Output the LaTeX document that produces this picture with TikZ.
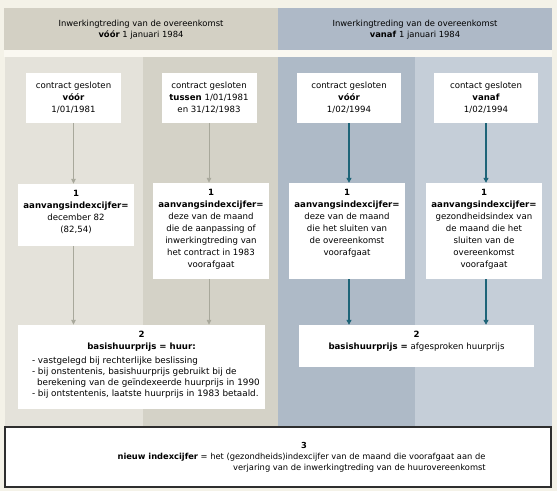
\documentclass[tikz,border=0pt]{standalone}
\usepackage{fontspec}
\setmainfont{DejaVu Sans}
\usetikzlibrary{arrows.meta}
\definecolor{bgc}{HTML}{F4F2E8}
\definecolor{gapc}{HTML}{FAF8F1}
\definecolor{hdl}{HTML}{D3D0C4}
\definecolor{hdr}{HTML}{AEB9C7}
\definecolor{cA}{HTML}{E4E2DA}
\definecolor{cB}{HTML}{D4D2C7}
\definecolor{cC}{HTML}{AEBAC7}
\definecolor{cD}{HTML}{C5CED8}
\definecolor{greyar}{HTML}{A8A89B}
\definecolor{tealar}{HTML}{1E6478}
\definecolor{framec}{HTML}{2E2E2E}
\newcommand\mytopbox[3]{\parbox[c][#2][t]{#1}{\centering\vspace*{6pt}#3}}
\begin{document}
\begin{tikzpicture}[x=1pt,y=-1pt,
  every node/.style={font=\fontsize{8.6}{12}\selectfont},
  hdtext/.style={align=center,font=\fontsize{8.4}{11.5}\selectfont},
  wbox/.style={fill=white, inner sep=0pt, align=center},
  ptext/.style={inner sep=0pt, font=\fontsize{8.3}{11}\selectfont},
  garrow/.style={draw=greyar, line width=0.9pt, -{Triangle[length=5pt,width=4.5pt]}},
  tarrow/.style={draw=tealar, line width=1.2pt, -{Triangle[length=5pt,width=5pt]}},
]
\useasboundingbox (0,0) rectangle (557,491);
\fill[bgc] (0,0) rectangle (557,491);
\fill[gapc] (4,50) rectangle (552,57);
\fill[hdl] (4,8) rectangle (278,50);
\fill[hdr] (278,8) rectangle (552,50);
\fill[cA] (5,57) rectangle (143,427);
\fill[cB] (143,57) rectangle (278,427);
\fill[cC] (278,57) rectangle (415,427);
\fill[cD] (415,57) rectangle (552,427);

% header
\node[hdtext] (hL) at (141,29.5) {Inwerkingtreding van de overeenkomst\\\textbf{vóór} 1 januari 1984};
\node[hdtext] (hR) at (415,29.5) {Inwerkingtreding van de overeenkomst\\\textbf{vanaf} 1 januari 1984};

% row 1
\node[wbox, minimum width=95, minimum height=50] (A1) at (73.5,98) {contract gesloten\\\textbf{vóór}\\1/01/1981};
\node[wbox, minimum width=95, minimum height=50] (B1) at (209,98) {contract gesloten\\\textbf{tussen} 1/01/1981\\en 31/12/1983};
\node[wbox, minimum width=104, minimum height=50] (C1) at (349,98) {contract gesloten\\\textbf{vóór}\\1/02/1994};
\node[wbox, minimum width=104, minimum height=50] (D1) at (486,98) {contact gesloten\\\textbf{vanaf}\\1/02/1994};

% row 2
\node[wbox] (A2) at (76,215) {\mytopbox{116pt}{62pt}{\textbf{1}\\\textbf{aanvangsindexcijfer=}\\december 82\\(82,54)}};
\node[wbox] (B2) at (211,231) {\mytopbox{116pt}{96pt}{\textbf{1}\\\textbf{aanvangsindexcijfer=}\\deze van de maand\\die de aanpassing of\\inwerkingtreding van\\het contract in 1983\\voorafgaat}};
\node[wbox] (C2) at (347,231) {\mytopbox{116pt}{96pt}{\textbf{1}\\\textbf{aanvangsindexcijfer=}\\deze van de maand\\die het sluiten van\\de overeenkomst\\voorafgaat}};
\node[wbox] (D2) at (484,231) {\mytopbox{116pt}{96pt}{\textbf{1}\\\textbf{aanvangsindexcijfer=}\\gezondheidsindex van\\de maand die het\\sluiten van de\\overeenkomst\\voorafgaat}};

% row 3
\node[wbox] (E) at (141.5,367) {\parbox[c][84pt][t]{247pt}{\vspace*{6pt}{\centering\textbf{2}\\\textbf{basishuurprijs = huur:}\par}\vspace{3pt}{\fontsize{8.8}{11}\selectfont\raggedright\leftskip=14pt
- vastgelegd bij rechterlijke beslissing\\
- bij onstentenis, basishuurprijs gebruikt bij de\\
\hspace*{5pt}berekening van de geïndexeerde huurprijs in 1990\\
- bij ontstentenis, laatste huurprijs in 1983 betaald.\par}}};
\node[wbox] (F) at (416.5,346) {\mytopbox{235pt}{42pt}{\textbf{2}\\\textbf{basishuurprijs =} afgesproken huurprijs}};

% bottom box
\node[draw=framec, line width=1.3pt, fill=white, minimum width=546, minimum height=60, inner sep=0pt] (G) at (278,457) {};
\node[ptext] (G3) at (304,445) {\textbf{3}};
\node[ptext] (G1) at (301.5,457) {\textbf{nieuw indexcijfer} = het (gezondheids)indexcijfer van de maand die voorafgaat aan de};
\node[ptext, anchor=west] (G2) at (233,468) {verjaring van de inwerkingtreding van de huurovereenkomst};

% arrows
\draw[garrow] (A1.south) -- (A1.south |- A2.north);
\draw[garrow] (A2.south -| A1.south) -- (A1.south |- E.north);
\draw[garrow] (B1.south) -- (B1.south |- B2.north);
\draw[garrow] (B2.south -| B1.south) -- (B1.south |- E.north);
\draw[tarrow] (C1.south) -- (C1.south |- C2.north);
\draw[tarrow] (C2.south -| C1.south) -- (C1.south |- F.north);
\draw[tarrow] (D1.south) -- (D1.south |- D2.north);
\draw[tarrow] (D2.south -| D1.south) -- (D1.south |- F.north);
\end{tikzpicture}
\end{document}
